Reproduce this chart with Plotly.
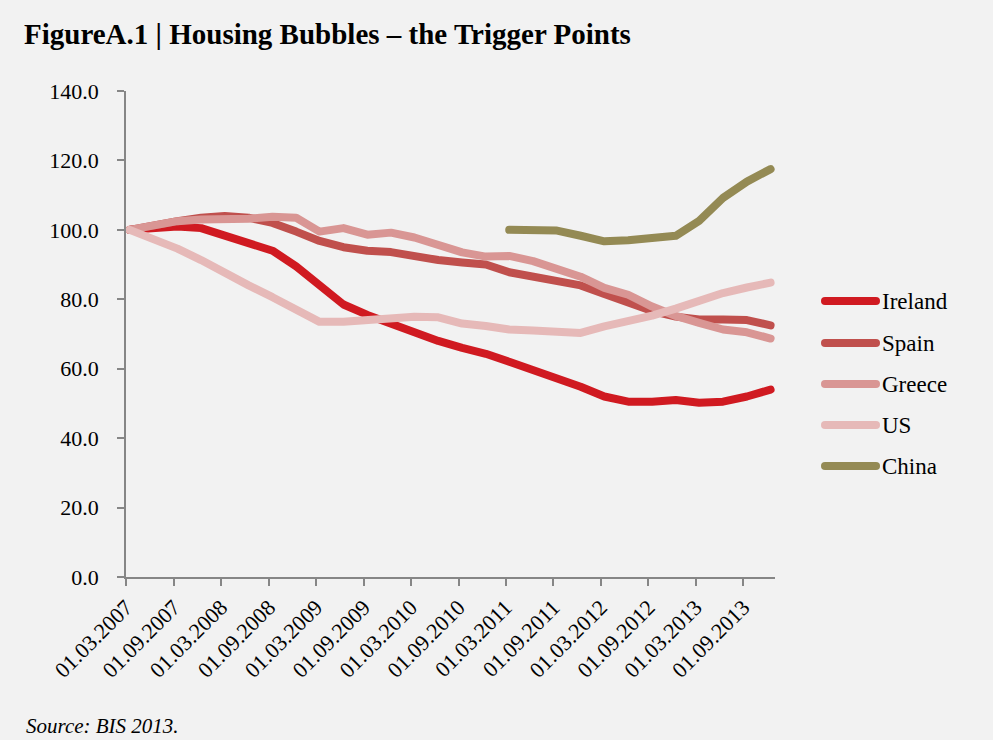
import plotly.graph_objects as go

# ---- data: house price indices, quarterly, 2007Q1 = 100 ----
quarters = [
    "2007-03", "2007-06", "2007-09", "2007-12",
    "2008-03", "2008-06", "2008-09", "2008-12",
    "2009-03", "2009-06", "2009-09", "2009-12",
    "2010-03", "2010-06", "2010-09", "2010-12",
    "2011-03", "2011-06", "2011-09", "2011-12",
    "2012-03", "2012-06", "2012-09", "2012-12",
    "2013-03", "2013-06", "2013-09", "2013-12",
]

ireland = [100.0, 100.5, 101.0, 100.5, 98.5, 96.5, 94.0, 89.5, 84.0, 78.5,
           75.5, 73.0, 70.0, 68.0, 66.0, 64.3, 62.0, 59.7, 57.4, 54.8,
           52.0, 50.5, 50.5, 51.0, 50.2, 50.5, 52.0, 54.0]
spain = [100.0, 101.5, 102.5, 103.5, 104.0, 103.5, 102.0, 99.5, 96.8, 95.0,
         94.0, 93.6, 92.2, 91.3, 90.6, 90.0, 87.8, 86.5, 85.2, 84.0,
         81.5, 79.0, 76.6, 75.0, 74.2, 74.2, 74.0, 72.5]
greece = [100.0, 101.5, 102.5, 103.0, 103.0, 103.2, 103.8, 103.5, 99.5, 100.5,
          98.6, 99.2, 97.8, 95.5, 93.5, 92.3, 92.5, 91.0, 89.0, 86.5,
          83.3, 81.3, 77.9, 75.2, 73.2, 71.3, 70.5, 68.7]
us = [100.0, 97.3, 94.6, 91.3, 87.5, 84.0, 80.6, 76.8, 73.5, 73.5,
      74.2, 74.7, 75.0, 74.8, 73.0, 72.3, 71.3, 71.0, 70.7, 70.3,
      72.2, 73.7, 75.3, 77.3, 79.8, 81.8, 83.4, 84.8]
china = [None] * 16 + [100.0, 100.1, 99.8, 98.3, 96.7, 97.0, 97.6, 98.3,
                       102.6, 109.2, 113.9, 117.5]

series_names = ["Ireland", "Spain", "Greece", "US", "China"]
series_values = [ireland, spain, greece, us, china]
series_colors = ["#D01A21", "#C0504D", "#D99694", "#E6B9B8", "#948A54"]

tick_labels = ["01.03.2007", "01.09.2007", "01.03.2008", "01.09.2008",
               "01.03.2009", "01.09.2009", "01.03.2010", "01.09.2010",
               "01.03.2011", "01.09.2011", "01.03.2012", "01.09.2012",
               "01.03.2013", "01.09.2013"]

# ---- layout geometry (pixels) ----
W, H = 993, 740
ML, MR, MT, MB = 126, 218, 91, 163
PW, PH = W - ML - MR, H - MT - MB


def px_x(px):
    return (px - ML) / PW


def px_y(py):
    return (H - MB - py) / PH


SERIF = "Liberation Serif"

# quarterly observations sit at mid-month on the date axis
x_dates = [q + "-15" for q in quarters]
tick_dates = ["%s-%s-%s" % (t[6:], t[3:5], t[0:2]) for t in tick_labels]

fig = go.Figure()
for name, vals, col in zip(series_names, series_values, series_colors):
    fig.add_trace(go.Scatter(
        x=x_dates, y=vals, name=name, mode="lines",
        line=dict(color=col, width=8),
        connectgaps=False, showlegend=False,
    ))

# legend drawn at the right-hand side: line sample + label
legend_rows = [301, 343, 384, 425, 466]
for name, col, py in zip(series_names, series_colors, legend_rows):
    fig.add_shape(type="line", xref="paper", yref="paper",
                  x0=px_x(825), x1=px_x(876), y0=px_y(py), y1=px_y(py),
                  line=dict(color=col, width=8))
    fig.add_annotation(xref="paper", yref="paper", x=px_x(880), y=px_y(py),
                       text=name, showarrow=False, xanchor="left",
                       yanchor="middle",
                       font=dict(family=SERIF, size=23, color="#000000"))

fig.add_annotation(xref="paper", yref="paper", x=px_x(24), y=px_y(726),
                   text="<i>Source: BIS 2013.</i>", showarrow=False,
                   xanchor="left", yanchor="middle",
                   font=dict(family=SERIF, size=21, color="#000000"))

axis_col = "#868686"
fig.update_layout(
    width=W, height=H,
    margin=dict(l=ML, r=MR, t=MT, b=MB, pad=0),
    paper_bgcolor="#F2F2F2", plot_bgcolor="#F2F2F2",
    title=dict(text="<b>FigureA.1 | Housing Bubbles – the Trigger Points</b>",
               x=24 / W, xref="container", xanchor="left",
               y=1 - 34 / H, yref="container", yanchor="middle",
               font=dict(family=SERIF, size=29, color="#000000")),
    xaxis=dict(
        type="date", range=["2007-03-01", "2014-01-01"],
        tickmode="array", tickvals=tick_dates, ticktext=tick_labels,
        tickangle=-45, ticks="outside", ticklen=7, tickwidth=1.5,
        tickcolor=axis_col, showline=True, linecolor=axis_col, linewidth=1.5,
        showgrid=False, zeroline=False,
        tickfont=dict(family=SERIF, size=22, color="#000000"),
    ),
    yaxis=dict(
        range=[0, 140], dtick=20, tick0=0, tickformat=".1f",
        ticks="outside", ticklen=7, tickwidth=1.5, tickcolor=axis_col,
        showline=True, linecolor=axis_col, linewidth=1.5,
        showgrid=False, zeroline=False, ticklabelstandoff=14,
        tickfont=dict(family=SERIF, size=22, color="#000000"),
    ),
)

round_caps = """
var s = document.createElement('style');
s.textContent = '.js-line, .shapelayer path {stroke-linecap: round; stroke-linejoin: round;}';
document.head.appendChild(s);
"""
fig.write_html("out.html", post_script=round_caps)
